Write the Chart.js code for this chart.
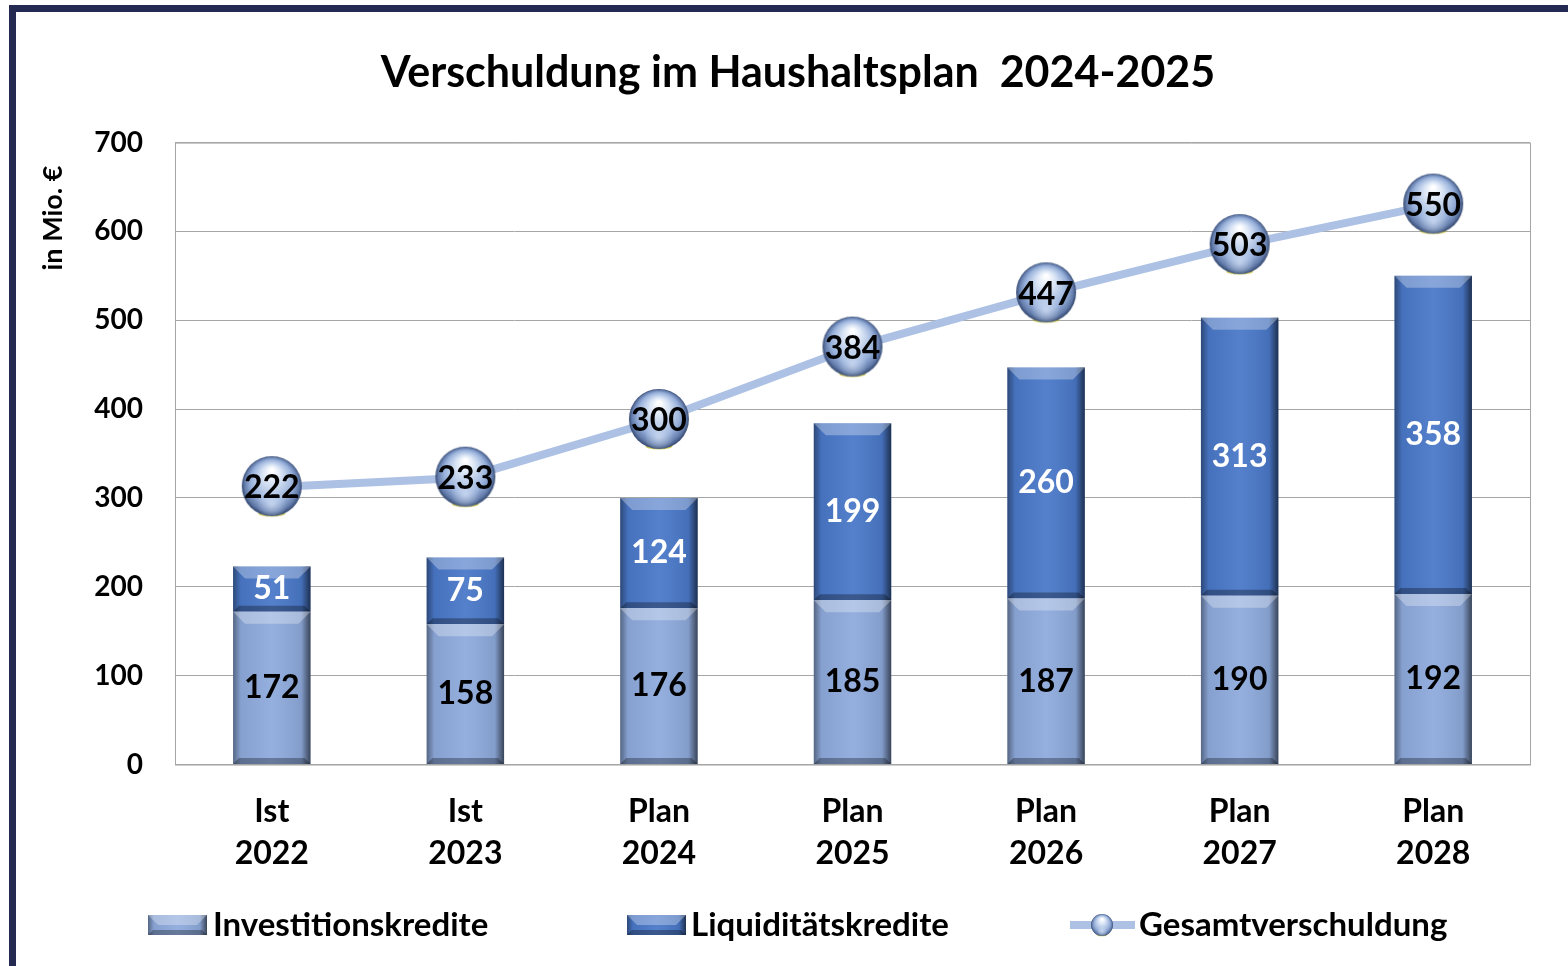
<!DOCTYPE html>
<html>
<head>
<meta charset="utf-8">
<script src="https://cdn.jsdelivr.net/npm/chart.js@4"></script>
<style>
  html, body { margin: 0; padding: 0; background: #fff; }
  #wrap { width: 1568px; height: 966px; position: relative; }
</style>
</head>
<body>
<div id="wrap"><canvas id="chartSchulden" width="1568" height="966"></canvas></div>
<script>
// ---- data ----
const kategorien = [["Ist", "2022"], ["Ist", "2023"], ["Plan", "2024"], ["Plan", "2025"], ["Plan", "2026"], ["Plan", "2027"], ["Plan", "2028"]];
const investitionskredite = [172, 158, 176, 185, 187, 190, 192];
const liquiditaetskredite = [51, 75, 124, 199, 260, 313, 358];
const gesamtverschuldung = [222, 233, 300, 384, 447, 503, 550];

const FONT = "Lato, 'Open Sans', sans-serif";
const FARBE_INV = "#8eaadc";
const FARBE_LIQ = "#4a78c8";
const FARBE_LINIE = "#adc1e5";
const GRAU = "#a6a6a6";

// kugel als pointStyle
function kugel(d) {
  const c = document.createElement("canvas");
  c.width = d + 4;
  c.height = d + 6;
  const g = c.getContext("2d");
  const r = d / 2, cx = c.width / 2, cy = r + 2;
  g.fillStyle = "rgba(200,190,40,0.8)";
  g.beginPath();
  g.ellipse(cx, cy + r * 0.9, r * 0.45, r * 0.12, 0, 0, Math.PI * 2);
  g.fill();
  const grad = g.createRadialGradient(cx, cy - r * 0.55, r * 0.05, cx, cy, r);
  grad.addColorStop(0, "#ffffff");
  grad.addColorStop(0.3, "#d6e2f4");
  grad.addColorStop(0.7, "#97b0da");
  grad.addColorStop(0.9, "#637cab");
  grad.addColorStop(1, "#34486f");
  g.fillStyle = grad;
  g.beginPath();
  g.arc(cx, cy, r, 0, Math.PI * 2);
  g.fill();
  const hl = g.createRadialGradient(cx, cy + r * 0.6, 0, cx, cy + r * 0.6, r * 0.5);
  hl.addColorStop(0, "rgba(230,240,255,0.6)");
  hl.addColorStop(1, "rgba(230,240,255,0)");
  g.fillStyle = hl;
  g.beginPath();
  g.arc(cx, cy, r, 0, Math.PI * 2);
  g.fill();
  return c;
}
const kugelGross = kugel(60);
const kugelKlein = kugel(22);

function bevel(ctx, left, top, w, h) {
  const g = ctx.createLinearGradient(left, 0, left + w, 0);
  g.addColorStop(0, "rgba(0,0,0,0.40)");
  g.addColorStop(0.1, "rgba(0,0,0,0.06)");
  g.addColorStop(0.5, "rgba(255,255,255,0.06)");
  g.addColorStop(0.88, "rgba(0,0,0,0.08)");
  g.addColorStop(1, "rgba(0,0,0,0.60)");
  ctx.fillStyle = g;
  ctx.fillRect(left, top, w, h);
  const b = Math.min(12, h / 2, w / 4);
  ctx.fillStyle = "rgba(255,255,255,0.30)";
  ctx.beginPath();
  ctx.moveTo(left, top);
  ctx.lineTo(left + w, top);
  ctx.lineTo(left + w - b, top + b);
  ctx.lineTo(left + b, top + b);
  ctx.closePath();
  ctx.fill();
  ctx.fillStyle = "rgba(0,0,0,0.30)";
  ctx.beginPath();
  ctx.moveTo(left, top + h);
  ctx.lineTo(left + w, top + h);
  ctx.lineTo(left + w - b * 0.5, top + h - b * 0.5);
  ctx.lineTo(left + b * 0.5, top + h - b * 0.5);
  ctx.closePath();
  ctx.fill();
}

const rahmenPlugin = {
  id: "rahmen",
  beforeDraw(chart) {
    const ctx = chart.ctx;
    ctx.save();
    ctx.fillStyle = "#fff";
    ctx.fillRect(0, 0, chart.width, chart.height);
    ctx.fillStyle = "#252a52";
    ctx.fillRect(9, 5, chart.width - 9, 7);
    ctx.fillRect(9, 5, 7, chart.height - 5);
    ctx.restore();
  },
  beforeDatasetsDraw(chart) {
    const { ctx, chartArea: a } = chart;
    ctx.save();
    ctx.strokeStyle = GRAU;
    ctx.lineWidth = 1;
    ctx.strokeRect(a.left + 0.5, a.top + 0.5, a.right - a.left, a.bottom - a.top);
    ctx.translate(53, 218);
    ctx.rotate(-Math.PI / 2);
    ctx.fillStyle = "#000";
    ctx.font = "bold 27px " + FONT;
    ctx.textAlign = "center";
    ctx.textBaseline = "middle";
    ctx.fillText("in Mio. €", 0, 0);
    ctx.restore();
  },
  afterDatasetDraw(chart, args) {
    if (args.meta.type !== "bar") return;
    const ctx = chart.ctx;
    ctx.save();
    args.meta.data.forEach((el) => {
      const top = Math.min(el.y, el.base), h = Math.abs(el.base - el.y);
      bevel(ctx, el.x - el.width / 2, top, el.width, h);
    });
    ctx.restore();
  },
  afterDatasetsDraw(chart) {
    const ctx = chart.ctx;
    ctx.save();
    ctx.font = "bold 32px " + FONT;
    ctx.textAlign = "center";
    ctx.textBaseline = "middle";
    chart.data.datasets.forEach((ds, i) => {
      const meta = chart.getDatasetMeta(i);
      meta.data.forEach((el, j) => {
        ctx.fillStyle = i === 1 ? "#fff" : "#000";
        const y = meta.type === "bar" ? (el.y + el.base) / 2 : el.y + 1;
        ctx.fillText(ds.data[j], el.x, y);
      });
    });
    ctx.restore();
  },
  afterDraw(chart) {
    const ctx = chart.ctx, y = 925;
    ctx.save();
    ctx.fillStyle = FARBE_INV;
    ctx.fillRect(148, y - 10, 59, 20);
    bevel(ctx, 148, y - 10, 59, 20);
    ctx.fillStyle = FARBE_LIQ;
    ctx.fillRect(627, y - 10, 59, 20);
    bevel(ctx, 627, y - 10, 59, 20);
    ctx.strokeStyle = FARBE_LINIE;
    ctx.lineWidth = 8;
    ctx.beginPath();
    ctx.moveTo(1070, y);
    ctx.lineTo(1135, y);
    ctx.stroke();
    ctx.drawImage(kugelKlein, 1102 - kugelKlein.width / 2, y - 13);
    ctx.fillStyle = "#000";
    ctx.font = "bold 33px " + FONT;
    ctx.textAlign = "left";
    ctx.textBaseline = "middle";
    ctx.fillText("Investitionskredite", 213, y);
    ctx.fillText("Liquiditätskredite", 691, y);
    ctx.fillText("Gesamtverschuldung", 1139, y);
    ctx.restore();
  },
};

new Chart(document.getElementById("chartSchulden").getContext("2d"), {
  type: "bar",
  data: {
    labels: kategorien,
    datasets: [
      {
        label: "Investitionskredite",
        data: investitionskredite,
        backgroundColor: FARBE_INV,
        stack: "s",
        order: 1,
        categoryPercentage: 0.8,
        barPercentage: 0.5,
      },
      {
        label: "Liquiditätskredite",
        data: liquiditaetskredite,
        backgroundColor: FARBE_LIQ,
        stack: "s",
        order: 1,
        categoryPercentage: 0.8,
        barPercentage: 0.5,
      },
      {
        type: "line",
        label: "Gesamtverschuldung",
        data: gesamtverschuldung,
        yAxisID: "y2",
        order: 0,
        borderColor: FARBE_LINIE,
        borderWidth: 8,
        tension: 0,
        pointStyle: kugelGross,
        pointRadius: 30,
      },
    ],
  },
  options: {
    responsive: false,
    animation: false,
    layout: { padding: { left: 65, right: 37, top: 0, bottom: 73 } },
    plugins: {
      legend: { display: false },
      tooltip: { enabled: false },
      title: {
        display: true,
        text: "Verschuldung im Haushaltsplan  2024-2025",
        color: "#000",
        font: { family: FONT, size: 43, weight: "bold", lineHeight: 1.2 },
        padding: { top: 47, bottom: 44 },
      },
    },
    scales: {
      x: {
        stacked: true,
        grid: { display: false },
        border: { color: GRAU },
        ticks: {
          color: "#000",
          padding: 18,
          font: { family: FONT, size: 32, weight: "bold", lineHeight: 1.32 },
          maxRotation: 0,
        },
      },
      y: {
        stacked: true,
        min: 0,
        max: 700,
        afterFit(scale) {
          scale.width = 110;
        },
        grid: { color: GRAU, drawTicks: false },
        border: { color: GRAU },
        ticks: {
          stepSize: 100,
          color: "#000",
          padding: 32,
          font: { family: FONT, size: 28, weight: "bold" },
        },
      },
      y2: {
        display: false,
        stacked: false,
        min: -100,
        max: 622,
      },
    },
  },
  plugins: [rahmenPlugin],
});
</script>
</body>
</html>
